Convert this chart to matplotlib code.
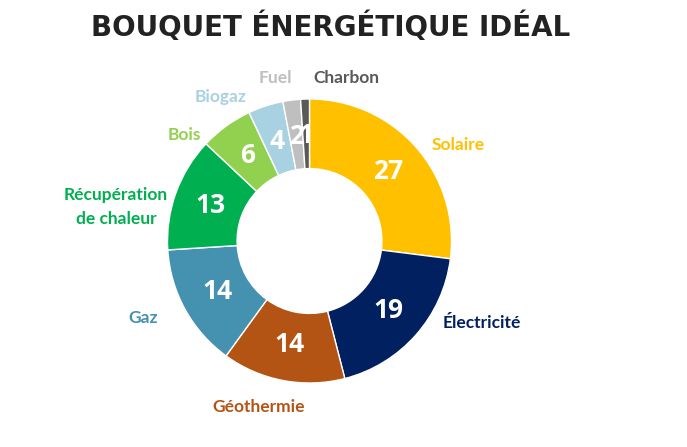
import matplotlib.pyplot as plt

categories = ["Solaire", "Électricité", "Géothermie", "Gaz", "Récupération\nde chaleur",
              "Bois", "Biogaz", "Fuel", "Charbon"]
values = [27, 19, 14, 14, 13, 6, 4, 2, 1]
colors = ["#FFC000", "#002060", "#B45414", "#4591B0", "#00B050",
          "#92D050", "#A8D1E2", "#BFBFBF", "#595959"]

# label positions in pixels (x, y from top), alignment
label_pos = [(432, 145, "left"), (443, 323, "left"), (259, 407, "center"),
             (158, 318, "right"), (116, 207, "center"), (201, 135, "right"),
             (247, 97, "right"), (292, 78, "right"), (313, 78, "left")]

W, H = 687, 447
fig = plt.figure(figsize=(W / 100, H / 100), dpi=100)
ax = fig.add_axes([0, 0, 1, 1])

cx, cy, r = 309.5, H - 241, 142
wedges, texts = ax.pie(values, colors=colors, startangle=90, counterclock=False,
                       center=(cx, cy), radius=r, frame=True,
                       labels=[str(v) for v in values], labeldistance=0.74,
                       wedgeprops=dict(width=r * 0.49, edgecolor="white", linewidth=1.0),
                       textprops=dict(color="white", fontsize=19, fontweight="bold",
                                      family="Open Sans", ha="center", va="center"))
ax.set_xlim(0, W)
ax.set_ylim(0, H)
ax.set_aspect("equal")
ax.axis("off")

for name, col, (x, y, ha) in zip(categories, colors, label_pos):
    ax.text(x, H - y, name, color=col, fontsize=12.5, fontweight="bold",
            family="Lato", ha=ha, va="center", linespacing=1.6)

fig.text(331 / W, 1 - 27 / H, "BOUQUET ÉNERGÉTIQUE IDÉAL", ha="center", va="center",
         fontsize=20, fontweight="heavy", color="#222222", family="DejaVu Sans")

fig.savefig("out.png", dpi=100)
